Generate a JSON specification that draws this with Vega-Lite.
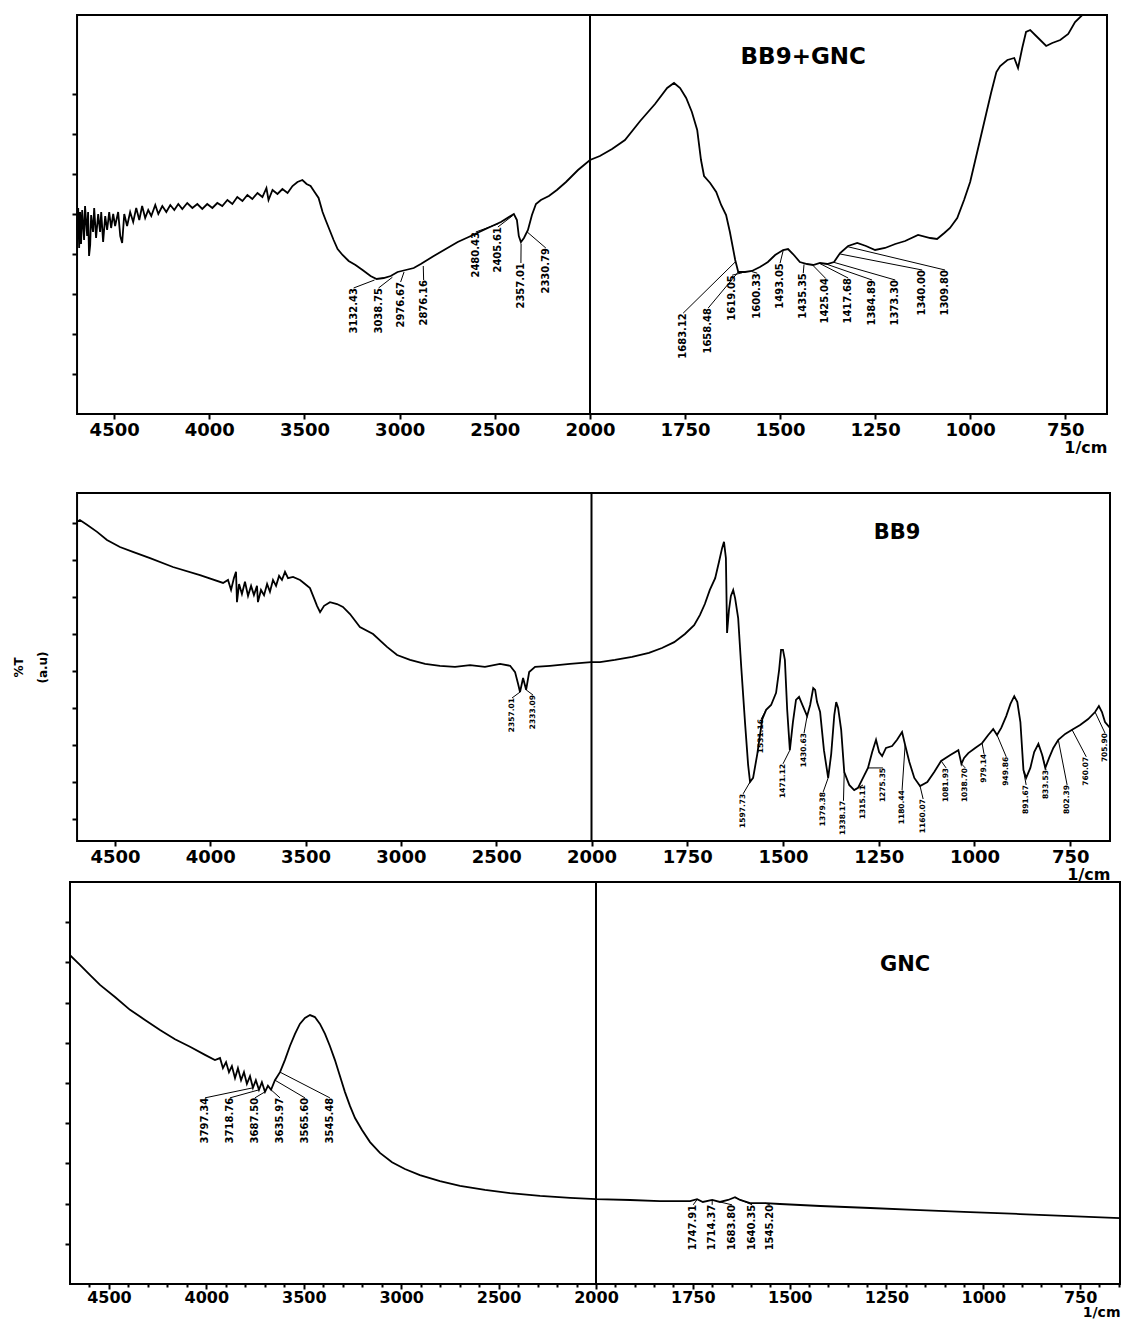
{
  "$schema": "https://vega.github.io/schema/vega-lite/v6.json",
  "background": "white",
  "padding": {"left": 12, "top": 14, "right": 0, "bottom": 0},
  "bounds": "flush",
  "spacing": 79,
  "config": {
    "font": "DejaVu Sans",
    "view": {"stroke": null},
    "axis": {
      "domain": false, "grid": false,
      "tickColor": "black", "tickWidth": 2, "tickSize": 5,
      "labelColor": "black", "labelFont": "DejaVu Sans", "labelFontWeight": "bold", "labelFontSize": 18, "labelPadding": 2,
      "titleColor": "black", "titleFont": "DejaVu Sans", "titleFontWeight": "bold", "titleFontSize": 16
    }
  },
  "datasets": {
    "one": [{}],
    "bb9gnc": [
      {"w":4695,"t":46},{"w":4689,"t":51.5},{"w":4684,"t":41.5},{"w":4679,"t":50.5},{"w":4674,"t":42.5},{"w":4668,"t":51},{"w":4658,"t":43.5},{"w":4653,"t":52},{"w":4642,"t":44.5},{"w":4637,"t":50.5},{"w":4632,"t":39.5},{"w":4626,"t":42.25},{"w":4621,"t":49.75},{"w":4611,"t":45.5},{"w":4605,"t":51.5},{"w":4595,"t":44},{"w":4584,"t":50},{"w":4574,"t":45.5},{"w":4568,"t":50.5},{"w":4558,"t":43},{"w":4547,"t":49.5},{"w":4537,"t":46},{"w":4526,"t":50.5},{"w":4516,"t":46.5},{"w":4505,"t":50},{"w":4495,"t":47},{"w":4479,"t":50.5},{"w":4468,"t":44.5},{"w":4458,"t":42.75},{"w":4447,"t":50},{"w":4432,"t":47},{"w":4416,"t":50.5},{"w":4400,"t":48},{"w":4384,"t":51.5},{"w":4368,"t":48.5},{"w":4353,"t":52},{"w":4337,"t":49},{"w":4321,"t":51},{"w":4305,"t":49.5},{"w":4284,"t":52.25},{"w":4268,"t":50},{"w":4247,"t":52},{"w":4226,"t":50.5},{"w":4205,"t":52.25},{"w":4184,"t":51},{"w":4163,"t":52.5},{"w":4142,"t":51.25},{"w":4116,"t":52.75},{"w":4089,"t":51.5},{"w":4063,"t":52.5},{"w":4037,"t":51.25},{"w":4011,"t":52.5},{"w":3984,"t":51.5},{"w":3958,"t":52.75},{"w":3932,"t":52},{"w":3905,"t":53.5},{"w":3879,"t":52.5},{"w":3853,"t":54.25},{"w":3826,"t":53.25},{"w":3800,"t":54.75},{"w":3774,"t":53.75},{"w":3747,"t":55.25},{"w":3721,"t":54.25},{"w":3700,"t":56.5},{"w":3689,"t":53.5},{"w":3668,"t":56},{"w":3642,"t":55},{"w":3616,"t":56.25},{"w":3589,"t":55.25},{"w":3563,"t":57},{"w":3537,"t":58},{"w":3511,"t":58.5},{"w":3489,"t":57.5},{"w":3468,"t":57},{"w":3447,"t":55.5},{"w":3426,"t":54},{"w":3405,"t":50.5},{"w":3389,"t":48.5},{"w":3368,"t":46},{"w":3347,"t":43.5},{"w":3326,"t":41.25},{"w":3300,"t":39.75},{"w":3268,"t":38.25},{"w":3232,"t":37.25},{"w":3195,"t":36},{"w":3153,"t":34.5},{"w":3121,"t":33.75},{"w":3084,"t":34},{"w":3047,"t":34.5},{"w":3011,"t":35.5},{"w":2968,"t":36},{"w":2926,"t":36.5},{"w":2889,"t":37.5},{"w":2821,"t":39.5},{"w":2758,"t":41.25},{"w":2695,"t":43},{"w":2626,"t":44.5},{"w":2537,"t":46.5},{"w":2468,"t":48},{"w":2400,"t":50},{"w":2384,"t":48.5},{"w":2374,"t":44.5},{"w":2363,"t":43},{"w":2347,"t":44},{"w":2326,"t":46},{"w":2305,"t":49.75},{"w":2284,"t":52.5},{"w":2258,"t":53.5},{"w":2216,"t":54.5},{"w":2174,"t":56},{"w":2126,"t":58},{"w":2063,"t":61},{"w":2000,"t":63.5},
      {"w":1974,"t":64.5},{"w":1942,"t":66.25},{"w":1908,"t":68.5},{"w":1868,"t":73.25},{"w":1829,"t":77.5},{"w":1797,"t":81.5},{"w":1779,"t":82.75},{"w":1763,"t":81.5},{"w":1747,"t":79},{"w":1732,"t":75.5},{"w":1718,"t":71},{"w":1708,"t":63.5},{"w":1700,"t":59.5},{"w":1684,"t":57.75},{"w":1668,"t":55.5},{"w":1655,"t":52.25},{"w":1642,"t":49.75},{"w":1632,"t":45.5},{"w":1618,"t":38.5},{"w":1610,"t":35.5},{"w":1592,"t":35.5},{"w":1574,"t":35.75},{"w":1553,"t":36.75},{"w":1532,"t":38},{"w":1513,"t":39.75},{"w":1492,"t":41},{"w":1479,"t":41.25},{"w":1466,"t":40},{"w":1448,"t":38},{"w":1429,"t":37.5},{"w":1413,"t":37.25},{"w":1395,"t":37.75},{"w":1376,"t":37.5},{"w":1358,"t":38},{"w":1342,"t":40.25},{"w":1321,"t":42},{"w":1297,"t":42.75},{"w":1274,"t":42},{"w":1250,"t":41},{"w":1224,"t":41.5},{"w":1197,"t":42.5},{"w":1171,"t":43.25},{"w":1137,"t":44.75},{"w":1105,"t":44},{"w":1087,"t":43.75},{"w":1068,"t":45.25},{"w":1053,"t":46.5},{"w":1034,"t":49},{"w":1016,"t":53.5},{"w":1000,"t":58},{"w":987,"t":63.25},{"w":974,"t":68.5},{"w":958,"t":75},{"w":945,"t":80.25},{"w":931,"t":85.5},{"w":921,"t":87},{"w":902,"t":88.5},{"w":884,"t":89},{"w":874,"t":86.5},{"w":863,"t":91.5},{"w":853,"t":95.5},{"w":842,"t":96},{"w":821,"t":94},{"w":800,"t":92},{"w":784,"t":92.75},{"w":763,"t":93.5},{"w":742,"t":95},{"w":724,"t":98},{"w":705,"t":99.75},{"w":684,"t":100.5},{"w":639,"t":100.5}
    ],
    "tags_bb9gnc": [
      {"label":"3132.43","peak_w":3132,"peak_t":33.5,"tag_w":3242,"tag_t":31.5},
      {"label":"3038.75","peak_w":3038,"peak_t":34.2,"tag_w":3111,"tag_t":31.5},
      {"label":"2976.67","peak_w":2977,"peak_t":35.5,"tag_w":2995,"tag_t":33},
      {"label":"2876.16","peak_w":2876,"peak_t":37,"tag_w":2874,"tag_t":33.5},
      {"label":"2480.43","peak_w":2480,"peak_t":47.6,"tag_w":2600,"tag_t":45.5},
      {"label":"2405.61","peak_w":2406,"peak_t":49.6,"tag_w":2484,"tag_t":46.75},
      {"label":"2357.01","peak_w":2362,"peak_t":42.6,"tag_w":2363,"tag_t":37.75},
      {"label":"2330.79","peak_w":2330,"peak_t":45.5,"tag_w":2232,"tag_t":41.5},
      {"label":"1683.12","peak_w":1618,"peak_t":38,"tag_w":1755,"tag_t":25.2},
      {"label":"1658.48","peak_w":1610,"peak_t":35.5,"tag_w":1689,"tag_t":26.5},
      {"label":"1619.05","peak_w":1600,"peak_t":35.3,"tag_w":1626,"tag_t":34.7},
      {"label":"1600.33","peak_w":1574,"peak_t":35.6,"tag_w":1560,"tag_t":35.2},
      {"label":"1493.05","peak_w":1492,"peak_t":40.8,"tag_w":1500,"tag_t":37.7},
      {"label":"1435.35","peak_w":1437,"peak_t":37.4,"tag_w":1439,"tag_t":35.2},
      {"label":"1425.04","peak_w":1413,"peak_t":37.1,"tag_w":1381,"tag_t":34},
      {"label":"1417.68","peak_w":1395,"peak_t":37.6,"tag_w":1321,"tag_t":34},
      {"label":"1384.89","peak_w":1376,"peak_t":37.4,"tag_w":1258,"tag_t":33.5},
      {"label":"1373.30","peak_w":1358,"peak_t":37.9,"tag_w":1197,"tag_t":33.5},
      {"label":"1340.00","peak_w":1342,"peak_t":40,"tag_w":1126,"tag_t":36},
      {"label":"1309.80","peak_w":1321,"peak_t":41.8,"tag_w":1066,"tag_t":36}
    ],
    "bb9": [
      {"w":4699,"t":90.3},{"w":4684,"t":90.8},{"w":4647,"t":89.5},{"w":4594,"t":87.6},{"w":4542,"t":85.4},{"w":4474,"t":83.5},{"w":4406,"t":82.2},{"w":4316,"t":80.5},{"w":4196,"t":78.1},{"w":4054,"t":75.9},{"w":3933,"t":73.8},{"w":3907,"t":74.6},{"w":3891,"t":71.9},{"w":3876,"t":75.1},{"w":3865,"t":76.8},{"w":3860,"t":68.6},{"w":3849,"t":73.5},{"w":3834,"t":70.8},{"w":3818,"t":74.1},{"w":3802,"t":70.3},{"w":3786,"t":73},{"w":3771,"t":70.5},{"w":3755,"t":73},{"w":3750,"t":68.6},{"w":3734,"t":71.9},{"w":3718,"t":70.5},{"w":3702,"t":73.5},{"w":3687,"t":71.4},{"w":3671,"t":74.6},{"w":3655,"t":73},{"w":3639,"t":75.7},{"w":3624,"t":74.6},{"w":3608,"t":76.8},{"w":3592,"t":75.1},{"w":3566,"t":75.4},{"w":3529,"t":74.6},{"w":3503,"t":73.5},{"w":3477,"t":72.4},{"w":3456,"t":69.7},{"w":3440,"t":67.6},{"w":3424,"t":65.9},{"w":3403,"t":67.6},{"w":3372,"t":68.6},{"w":3335,"t":68.1},{"w":3304,"t":67.3},{"w":3267,"t":65.4},{"w":3215,"t":61.9},{"w":3146,"t":60},{"w":3073,"t":56.5},{"w":3020,"t":54.3},{"w":2952,"t":53},{"w":2873,"t":51.9},{"w":2795,"t":51.4},{"w":2716,"t":51.1},{"w":2637,"t":51.6},{"w":2559,"t":51.1},{"w":2480,"t":51.9},{"w":2427,"t":51.4},{"w":2401,"t":49.7},{"w":2385,"t":46.5},{"w":2375,"t":44.3},{"w":2359,"t":48.1},{"w":2343,"t":44.9},{"w":2327,"t":49.7},{"w":2296,"t":51.1},{"w":2218,"t":51.4},{"w":2113,"t":51.9},{"w":2002,"t":52.4},
      {"w":1978,"t":52.4},{"w":1939,"t":53},{"w":1894,"t":53.8},{"w":1850,"t":54.9},{"w":1816,"t":56.2},{"w":1784,"t":57.8},{"w":1756,"t":60},{"w":1732,"t":62.4},{"w":1717,"t":65.1},{"w":1704,"t":68.1},{"w":1691,"t":71.9},{"w":1677,"t":75.1},{"w":1667,"t":79.5},{"w":1659,"t":83.2},{"w":1654,"t":84.9},{"w":1649,"t":80.5},{"w":1646,"t":60.3},{"w":1641,"t":66.5},{"w":1636,"t":70.3},{"w":1630,"t":71.9},{"w":1625,"t":69.7},{"w":1617,"t":64.3},{"w":1609,"t":51.1},{"w":1599,"t":35.9},{"w":1591,"t":24.6},{"w":1586,"t":20},{"w":1578,"t":21.1},{"w":1567,"t":27.6},{"w":1554,"t":37},{"w":1544,"t":39.5},{"w":1531,"t":40.8},{"w":1518,"t":44.1},{"w":1510,"t":50.3},{"w":1505,"t":55.7},{"w":1500,"t":55.7},{"w":1495,"t":53},{"w":1489,"t":39.5},{"w":1482,"t":28.6},{"w":1474,"t":36.2},{"w":1466,"t":42.2},{"w":1458,"t":43},{"w":1448,"t":40.5},{"w":1437,"t":37.8},{"w":1429,"t":40.8},{"w":1421,"t":45.4},{"w":1416,"t":44.9},{"w":1411,"t":41.6},{"w":1403,"t":38.9},{"w":1393,"t":28.6},{"w":1382,"t":21.1},{"w":1374,"t":27.6},{"w":1366,"t":38.1},{"w":1361,"t":41.6},{"w":1356,"t":40},{"w":1348,"t":34.1},{"w":1340,"t":22.7},{"w":1327,"t":19.2},{"w":1314,"t":17.8},{"w":1304,"t":18.4},{"w":1291,"t":21.1},{"w":1278,"t":23.8},{"w":1267,"t":28.1},{"w":1257,"t":31.4},{"w":1249,"t":28.1},{"w":1241,"t":27},{"w":1231,"t":29.2},{"w":1215,"t":29.7},{"w":1202,"t":31.4},{"w":1189,"t":33.5},{"w":1181,"t":30},{"w":1170,"t":25.4},{"w":1157,"t":21.1},{"w":1142,"t":18.9},{"w":1123,"t":20},{"w":1105,"t":22.7},{"w":1087,"t":25.7},{"w":1063,"t":27.3},{"w":1042,"t":28.6},{"w":1034,"t":24.9},{"w":1027,"t":26.5},{"w":1016,"t":27.8},{"w":998,"t":29.2},{"w":980,"t":30.5},{"w":964,"t":32.7},{"w":951,"t":34.3},{"w":941,"t":32.7},{"w":930,"t":34.6},{"w":917,"t":37.8},{"w":906,"t":41.1},{"w":896,"t":43.2},{"w":888,"t":41.6},{"w":880,"t":36.2},{"w":872,"t":23.2},{"w":865,"t":21.1},{"w":854,"t":23.8},{"w":844,"t":28.1},{"w":833,"t":30.3},{"w":823,"t":27.3},{"w":815,"t":23.8},{"w":805,"t":26.5},{"w":794,"t":29.2},{"w":781,"t":31.4},{"w":763,"t":33},{"w":745,"t":34.1},{"w":724,"t":35.4},{"w":703,"t":37},{"w":685,"t":38.9},{"w":675,"t":40.5},{"w":667,"t":38.9},{"w":659,"t":36.2},{"w":646,"t":34.6}
    ],
    "tags_bb9": [
      {"label":"2357.01","peak_w":2375,"peak_t":44.3,"tag_w":2417,"tag_t":42.7},
      {"label":"2333.09","peak_w":2343,"peak_t":44.9,"tag_w":2307,"tag_t":43.5},
      {"label":"1597.73","peak_w":1586,"peak_t":20,"tag_w":1604,"tag_t":16.8},
      {"label":"1531.16","peak_w":1544,"peak_t":39.5,"tag_w":1557,"tag_t":37},
      {"label":"1471.12","peak_w":1482,"peak_t":28.6,"tag_w":1500,"tag_t":24.9},
      {"label":"1430.63","peak_w":1437,"peak_t":37.8,"tag_w":1445,"tag_t":33.2},
      {"label":"1379.38","peak_w":1382,"peak_t":21.1,"tag_w":1395,"tag_t":17.3},
      {"label":"1338.17","peak_w":1340,"peak_t":22.7,"tag_w":1342,"tag_t":14.9},
      {"label":"1315.11","peak_w":1314,"peak_t":17.8,"tag_w":1291,"tag_t":19.2},
      {"label":"1275.35","peak_w":1278,"peak_t":23.8,"tag_w":1239,"tag_t":23.8},
      {"label":"1180.44","peak_w":1181,"peak_t":30,"tag_w":1189,"tag_t":17.8},
      {"label":"1160.07","peak_w":1142,"peak_t":18.9,"tag_w":1134,"tag_t":15.4},
      {"label":"1081.93","peak_w":1087,"peak_t":25.7,"tag_w":1074,"tag_t":23.8},
      {"label":"1038.70","peak_w":1034,"peak_t":24.9,"tag_w":1024,"tag_t":23.8},
      {"label":"979.14","peak_w":980,"peak_t":30.5,"tag_w":975,"tag_t":27.6},
      {"label":"949.86","peak_w":941,"peak_t":32.7,"tag_w":917,"tag_t":26.8},
      {"label":"891.67","peak_w":872,"peak_t":23.2,"tag_w":865,"tag_t":19.2},
      {"label":"833.53","peak_w":823,"peak_t":27.3,"tag_w":813,"tag_t":23.2},
      {"label":"802.39","peak_w":781,"peak_t":31.4,"tag_w":758,"tag_t":19.2},
      {"label":"760.07","peak_w":745,"peak_t":34.1,"tag_w":708,"tag_t":26.8},
      {"label":"705.90","peak_w":685,"peak_t":38.9,"tag_w":659,"tag_t":33.2}
    ],
    "gnc": [
      {"w":4700,"t":81.8},{"w":4649,"t":79.4},{"w":4598,"t":76.9},{"w":4546,"t":74.4},{"w":4469,"t":71.4},{"w":4392,"t":68.2},{"w":4315,"t":65.7},{"w":4238,"t":63.2},{"w":4161,"t":60.9},{"w":4084,"t":59},{"w":4007,"t":57},{"w":3956,"t":55.7},{"w":3930,"t":56.2},{"w":3915,"t":53.7},{"w":3899,"t":55.2},{"w":3884,"t":52.7},{"w":3869,"t":54.2},{"w":3853,"t":51.2},{"w":3838,"t":53.7},{"w":3822,"t":50.7},{"w":3807,"t":52.7},{"w":3792,"t":49.8},{"w":3776,"t":51.7},{"w":3761,"t":48.8},{"w":3746,"t":50.7},{"w":3730,"t":48.3},{"w":3715,"t":50.2},{"w":3699,"t":47.8},{"w":3684,"t":49.3},{"w":3668,"t":48.3},{"w":3648,"t":50.7},{"w":3622,"t":52.7},{"w":3597,"t":55.7},{"w":3571,"t":59.2},{"w":3545,"t":62.2},{"w":3520,"t":64.7},{"w":3494,"t":66.2},{"w":3468,"t":66.9},{"w":3443,"t":66.4},{"w":3417,"t":64.7},{"w":3391,"t":62.2},{"w":3366,"t":59.2},{"w":3340,"t":55.7},{"w":3314,"t":51.7},{"w":3289,"t":47.8},{"w":3263,"t":44.3},{"w":3237,"t":41.3},{"w":3201,"t":38.3},{"w":3160,"t":35.3},{"w":3109,"t":32.6},{"w":3047,"t":30.3},{"w":2981,"t":28.6},{"w":2904,"t":27.1},{"w":2801,"t":25.6},{"w":2698,"t":24.4},{"w":2570,"t":23.4},{"w":2441,"t":22.6},{"w":2287,"t":21.9},{"w":2133,"t":21.4},{"w":2000,"t":21.1},
      {"w":1912,"t":20.9},{"w":1835,"t":20.6},{"w":1757,"t":20.6},{"w":1739,"t":21.1},{"w":1724,"t":20.4},{"w":1700,"t":20.9},{"w":1680,"t":20.4},{"w":1659,"t":20.9},{"w":1641,"t":21.6},{"w":1628,"t":20.9},{"w":1602,"t":20.1},{"w":1563,"t":20.1},{"w":1525,"t":19.9},{"w":1421,"t":19.4},{"w":1292,"t":18.9},{"w":1163,"t":18.4},{"w":1034,"t":17.9},{"w":905,"t":17.4},{"w":776,"t":16.9},{"w":647,"t":16.4}
    ],
    "tags_gnc": [
      {"label":"3797.34","peak_w":3761,"peak_t":48.8,"tag_w":4007,"tag_t":46.3},
      {"label":"3718.76","peak_w":3730,"peak_t":48.3,"tag_w":3879,"tag_t":46.3},
      {"label":"3687.50","peak_w":3699,"peak_t":47.8,"tag_w":3751,"tag_t":46.3},
      {"label":"3635.97","peak_w":3668,"peak_t":48.3,"tag_w":3622,"tag_t":46.3},
      {"label":"3565.60","peak_w":3648,"peak_t":50.7,"tag_w":3494,"tag_t":46.3},
      {"label":"3545.48","peak_w":3622,"peak_t":52.7,"tag_w":3366,"tag_t":46.3},
      {"label":"1747.91","peak_w":1739,"peak_t":21,"tag_w":1749,"tag_t":19.7},
      {"label":"1714.37","peak_w":1700,"peak_t":20.8,"tag_w":1700,"tag_t":19.7},
      {"label":"1683.80","peak_w":1680,"peak_t":20.4,"tag_w":1649,"tag_t":19.7},
      {"label":"1640.35","peak_w":1641,"peak_t":21.5,"tag_w":1597,"tag_t":19.7},
      {"label":"1545.20","peak_w":1563,"peak_t":20.1,"tag_w":1551,"tag_t":19.7}
    ]
  },
  "vconcat": [
    {
      "width": 1037, "height": 399,
      "resolve": {"axis": {"x": "independent", "y": "independent"}},
      "layer": [
        {
          "data": {"name": "bb9gnc"},
          "mark": {"type": "line", "color": "black", "strokeWidth": 1.8, "clip": true},
          "encoding": {
            "x": {"field": "w", "type": "quantitative", "title": "1/cm",
              "scale": {"domain": [4732, 2000, 640], "range": [0, 520, 1037], "nice": false, "zero": false},
              "axis": {"values": [4500, 4000, 3500, 3000, 2500, 2000, 1750, 1500, 1250, 1000, 750], "format": "d", "labelOverlap": false, "labelFlush": false, "titleAnchor": "end", "titleAlign": "right", "titlePadding": 0}},
            "y": {"field": "t", "type": "quantitative", "title": null,
              "scale": {"domain": [0, 99.75], "nice": false, "zero": false},
              "axis": {"values": [10, 20, 30, 40, 50, 60, 70, 80], "labels": false, "offset": -7}}
          }
        },
        {
          "data": {"name": "one"},
          "mark": {"type": "rect", "filled": false, "color": "black", "strokeWidth": 2},
          "encoding": {
            "x": {"datum": 4695, "type": "quantitative", "axis": null}, "x2": {"datum": 640},
            "y": {"datum": 0, "type": "quantitative", "axis": null}, "y2": {"datum": 99.75}
          }
        },
        {
          "data": {"name": "one"},
          "mark": {"type": "rule", "color": "black", "strokeWidth": 2},
          "encoding": {"x": {"datum": 2000, "type": "quantitative", "axis": null}}
        },
        {
          "data": {"name": "tags_bb9gnc"},
          "mark": {"type": "rule", "color": "black", "strokeWidth": 1},
          "encoding": {
            "x": {"field": "peak_w", "type": "quantitative", "axis": null}, "x2": {"field": "tag_w"},
            "y": {"field": "peak_t", "type": "quantitative", "axis": null}, "y2": {"field": "tag_t"}
          }
        },
        {
          "data": {"name": "tags_bb9gnc"},
          "mark": {"type": "text", "angle": 270, "align": "right", "baseline": "middle", "font": "DejaVu Sans", "fontWeight": "bold", "fontSize": 10, "color": "black"},
          "encoding": {
            "x": {"field": "tag_w", "type": "quantitative", "axis": null},
            "y": {"field": "tag_t", "type": "quantitative", "axis": null},
            "text": {"field": "label"}
          }
        },
        {
          "data": {"name": "one"},
          "mark": {"type": "text", "text": "BB9+GNC", "font": "DejaVu Sans", "fontWeight": "bold", "fontSize": 23, "align": "center", "baseline": "middle", "color": "black"},
          "encoding": {"x": {"datum": 1439, "type": "quantitative", "axis": null}, "y": {"datum": 89.25, "type": "quantitative", "axis": null}}
        }
      ]
    },
    {
      "bounds": "flush",
      "spacing": 41,
      "vconcat": [
        {
          "width": 1040, "height": 348,
          "resolve": {"axis": {"x": "independent", "y": "independent"}},
          "layer": [
            {
              "data": {"name": "bb9"},
              "mark": {"type": "line", "color": "black", "strokeWidth": 1.8, "clip": true},
              "encoding": {
                "x": {"field": "w", "type": "quantitative", "title": "1/cm",
                  "scale": {"domain": [4736, 2000, 646], "range": [0, 521.5, 1040], "nice": false, "zero": false},
                  "axis": {"values": [4500, 4000, 3500, 3000, 2500, 2000, 1750, 1500, 1250, 1000, 750], "format": "d", "labelOverlap": false, "labelFlush": false, "titleAnchor": "end", "titleAlign": "right", "titlePadding": 0}},
                "y": {"field": "t", "type": "quantitative",
                  "scale": {"domain": [4.05, 98.1], "nice": false, "zero": false},
                  "axis": {"values": [10, 20, 30, 40, 50, 60, 70, 80, 90], "labels": false, "offset": -7,
                    "title": ["%T", "(a.u)"], "titleFontSize": 12, "titleLineHeight": 24, "titlePadding": 22}}
              }
            },
            {
              "data": {"name": "one"},
              "mark": {"type": "rect", "filled": false, "color": "black", "strokeWidth": 2},
              "encoding": {
                "x": {"datum": 4699, "type": "quantitative", "axis": null}, "x2": {"datum": 646},
                "y": {"datum": 4.05, "type": "quantitative", "axis": null}, "y2": {"datum": 98.1}
              }
            },
            {
              "data": {"name": "one"},
              "mark": {"type": "rule", "color": "black", "strokeWidth": 2},
              "encoding": {"x": {"datum": 2000, "type": "quantitative", "axis": null}}
            },
            {
              "data": {"name": "tags_bb9"},
              "mark": {"type": "rule", "color": "black", "strokeWidth": 1},
              "encoding": {
                "x": {"field": "peak_w", "type": "quantitative", "axis": null}, "x2": {"field": "tag_w"},
                "y": {"field": "peak_t", "type": "quantitative", "axis": null}, "y2": {"field": "tag_t"}
              }
            },
            {
              "data": {"name": "tags_bb9"},
              "mark": {"type": "text", "angle": 270, "align": "right", "baseline": "middle", "font": "DejaVu Sans", "fontWeight": "bold", "fontSize": 7.5, "color": "black"},
              "encoding": {
                "x": {"field": "tag_w", "type": "quantitative", "axis": null},
                "y": {"field": "tag_t", "type": "quantitative", "axis": null},
                "text": {"field": "label"}
              }
            },
            {
              "data": {"name": "one"},
              "mark": {"type": "text", "text": "BB9", "font": "DejaVu Sans", "fontWeight": "bold", "fontSize": 21, "align": "center", "baseline": "middle", "color": "black"},
              "encoding": {"x": {"datum": 1202, "type": "quantitative", "axis": null}, "y": {"datum": 87.3, "type": "quantitative", "axis": null}}
            }
          ]
        },
        {
          "width": 1050, "height": 402,
          "resolve": {"axis": {"x": "independent", "y": "independent"}},
          "layer": [
            {
              "data": {"name": "gnc"},
              "mark": {"type": "line", "color": "black", "strokeWidth": 1.8, "clip": true},
              "encoding": {
                "x": {"field": "w", "type": "quantitative", "title": "1/cm",
                  "scale": {"domain": [4700, 2000, 647], "range": [0, 526, 1050], "nice": false, "zero": false},
                  "axis": {"orient": "bottom", "values": [4500, 4000, 3500, 3000, 2500, 2000, 1750, 1500, 1250, 1000, 750], "format": "d", "labelOverlap": false, "labelFlush": false, "labelFontSize": 16, "labelPadding": 0, "titleFontSize": 14, "titleAnchor": "end", "titleAlign": "right", "titlePadding": 0}},
                "y": {"field": "t", "type": "quantitative", "title": null,
                  "scale": {"domain": [0, 100], "nice": false, "zero": false},
                  "axis": {"values": [10, 20, 30, 40, 50, 60, 70, 80, 90], "labels": false}}
              }
            },
            {
              "data": {"name": "one"},
              "mark": {"type": "rect", "filled": false, "color": "black", "strokeWidth": 2},
              "encoding": {
                "x": {"datum": 4700, "type": "quantitative", "axis": null}, "x2": {"datum": 647},
                "y": {"datum": 0, "type": "quantitative", "axis": null}, "y2": {"datum": 100}
              }
            },
            {
              "data": {"name": "one"},
              "mark": {"type": "rule", "color": "black", "strokeWidth": 2},
              "encoding": {"x": {"datum": 2000, "type": "quantitative",
                "axis": {"orient": "bottom", "title": null, "labels": false, "tickSize": 3,
                  "values": [4600, 4400, 4300, 4200, 4100, 3900, 3800, 3700, 3600, 3400, 3300, 3200, 3100, 2900, 2800, 2700, 2600, 2400, 2300, 2200, 2100, 1950, 1900, 1850, 1800, 1700, 1650, 1600, 1550, 1450, 1400, 1350, 1300, 1200, 1150, 1100, 1050, 950, 900, 850, 800, 700, 650]}}}
            },
            {
              "data": {"name": "tags_gnc"},
              "mark": {"type": "rule", "color": "black", "strokeWidth": 1},
              "encoding": {
                "x": {"field": "peak_w", "type": "quantitative", "axis": null}, "x2": {"field": "tag_w"},
                "y": {"field": "peak_t", "type": "quantitative", "axis": null}, "y2": {"field": "tag_t"}
              }
            },
            {
              "data": {"name": "tags_gnc"},
              "mark": {"type": "text", "angle": 270, "align": "right", "baseline": "middle", "font": "DejaVu Sans", "fontWeight": "bold", "fontSize": 10, "color": "black"},
              "encoding": {
                "x": {"field": "tag_w", "type": "quantitative", "axis": null},
                "y": {"field": "tag_t", "type": "quantitative", "axis": null},
                "text": {"field": "label"}
              }
            },
            {
              "data": {"name": "one"},
              "mark": {"type": "text", "text": "GNC", "font": "DejaVu Sans", "fontWeight": "bold", "fontSize": 21, "align": "center", "baseline": "middle", "color": "black"},
              "encoding": {"x": {"datum": 1202, "type": "quantitative", "axis": null}, "y": {"datum": 79.4, "type": "quantitative", "axis": null}}
            }
          ]
        }
      ]
    }
  ]
}
